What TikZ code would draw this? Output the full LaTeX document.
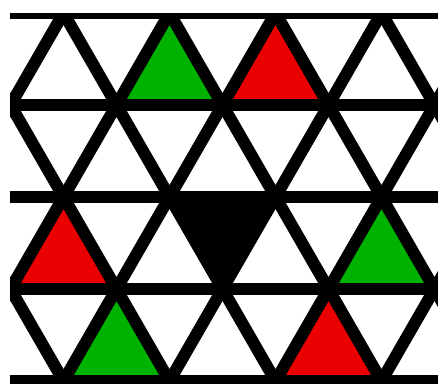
\documentclass[tikz,border=0pt]{standalone}
\definecolor{tgreen}{RGB}{0,178,0}
\definecolor{tred}{RGB}{234,0,0}
\tikzset{
  grid line/.style={line width=12pt, black},
  tri/.style={draw=none}
}
\begin{document}
\begin{tikzpicture}[x=1pt,y=-1pt]
\useasboundingbox (0,0) rectangle (438,383);
\begin{scope}
\clip (10,13) rectangle (438,383);
% coloured triangles
\fill[tgreen] (169.5,13) -- (116.5,105) -- (222.5,105) -- cycle;
\fill[tred] (275.5,13) -- (222.5,105) -- (328.5,105) -- cycle;
\fill[tred] (63.5,197) -- (10.5,289) -- (116.5,289) -- cycle;
\fill[black] (169.5,197) -- (275.5,197) -- (222.5,289) -- cycle;
\fill[tgreen] (381.5,197) -- (328.5,289) -- (434.5,289) -- cycle;
\fill[tgreen] (116.5,289) -- (63.5,381) -- (169.5,381) -- cycle;
\fill[tred] (328.5,289) -- (275.5,381) -- (381.5,381) -- cycle;
% horizontal lines
\foreach \y in {13,105,197,289,381}
  \draw[grid line] (0,\y) -- (438,\y);
% diagonal lines
\foreach \j in {-2,...,6}{
  \pgfmathsetmacro{\X}{10.5+106*\j}
  \draw[grid line] (\X+60.49,0) -- (\X-169.95,400);
  \draw[grid line] (\X-60.49,0) -- (\X+169.95,400);
}
\end{scope}
\end{tikzpicture}
\end{document}
